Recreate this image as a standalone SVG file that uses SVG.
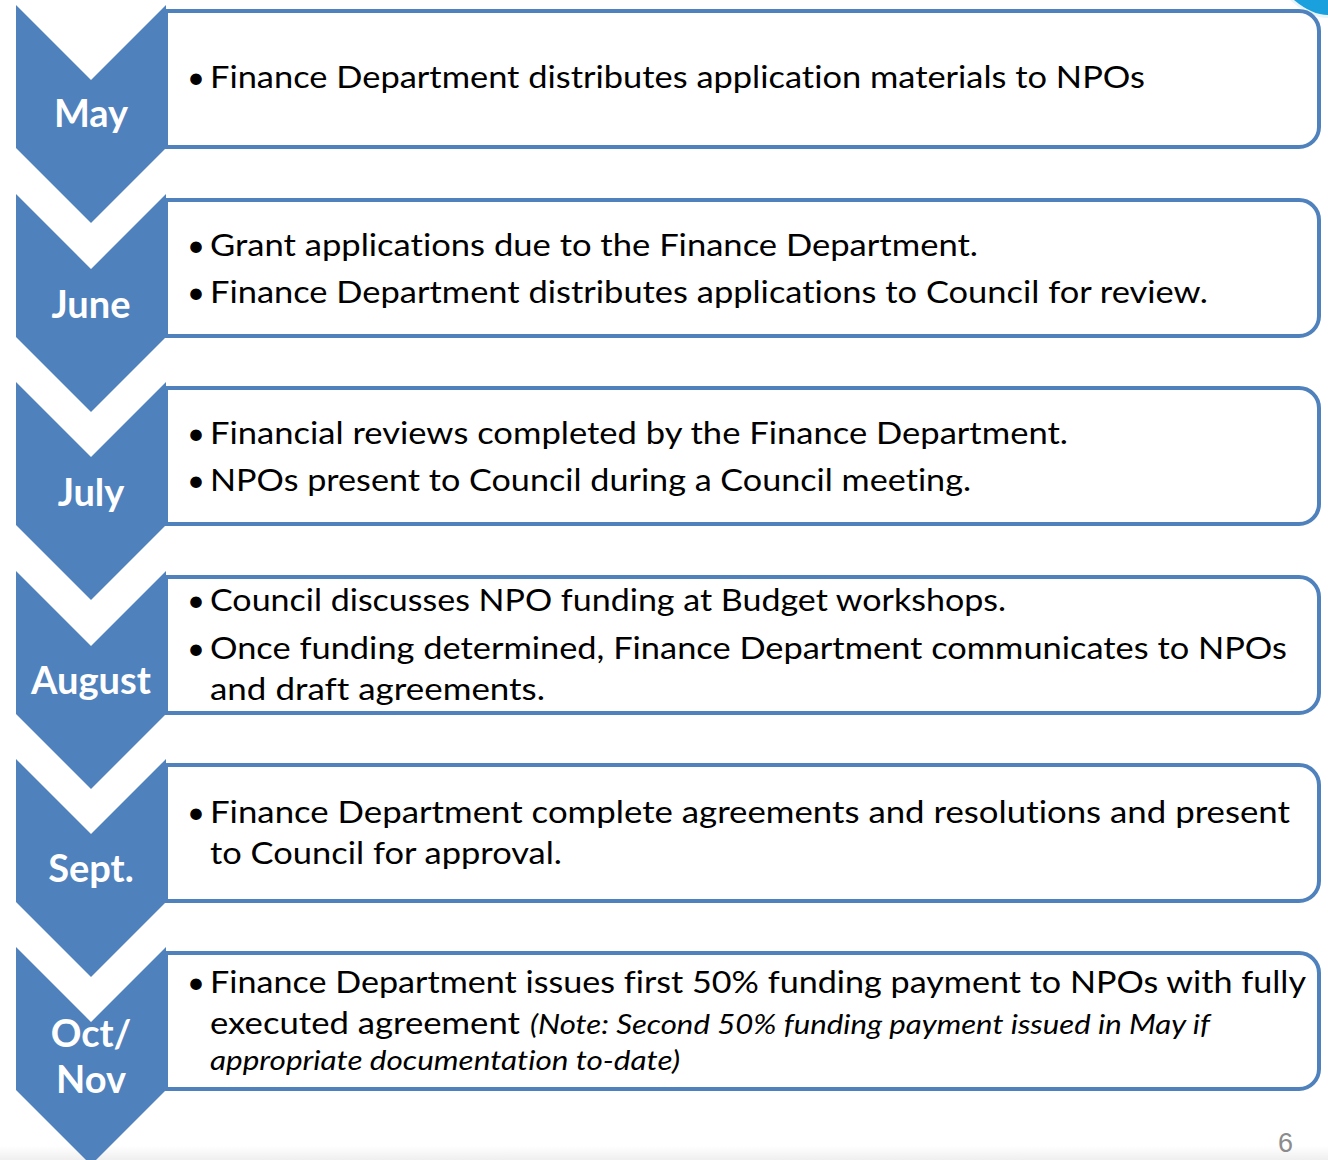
<svg xmlns="http://www.w3.org/2000/svg" width="1328" height="1160" viewBox="0 0 1328 1160">
  <defs>
    <style>
      .chev { fill: #4F81BD; }
      .box { fill: #FFFFFF; stroke: #4F81BD; stroke-width: 4; }
      text { font-variant-ligatures: none; }
      .month { font-family: Lato, "Open Sans", sans-serif; font-weight: bold; font-size: 38px; fill: #FFFFFF; text-anchor: middle; }
      .item { font-family: Lato, "Open Sans", sans-serif; font-size: 31px; fill: #000000; }
      .note { font-family: Lato, "Open Sans", sans-serif; font-size: 27px; font-style: italic; fill: #000000; }
      .page { font-family: "Liberation Sans", Arial, sans-serif; font-size: 27px; fill: #8C8C8C; }
    </style>
    <!-- chevron: 150 wide, 75 deep notch, shoulder at 143 -->
    <path id="chevron" d="M16,0 L91,75 L166,0 L166,143 L91,218 L16,143 Z"/>
    <!-- step box: square left side, rounded right side -->
    <path id="stepbox" d="M166,0 L1299,0 A20,20 0 0 1 1319,20 L1319,116 A20,20 0 0 1 1299,136 L166,136 Z"/>
    <linearGradient id="floor" x1="0" y1="0" x2="0" y2="1">
      <stop offset="0" stop-color="#FFFFFF"/>
      <stop offset="1" stop-color="#EFEFEF"/>
    </linearGradient>
  </defs>

  <rect x="0" y="0" width="1328" height="1160" fill="#FFFFFF"/>
  <rect x="0" y="1146" width="1328" height="14" fill="url(#floor)"/>

  <!-- corner accent -->
  <path d="M1290,0 Q1310,18 1328,18 L1328,0 Z" fill="#E6F4FB"/>
  <path d="M1294,0 Q1312,15 1328,15 L1328,0 Z" fill="#1AA0DC"/>

  <!-- May -->
  <g id="step-may">
    <use href="#stepbox" class="box" transform="translate(0,11)"/>
    <use href="#chevron" class="chev" transform="translate(0,5)"/>
    <text class="month" x="91" y="127">May</text>
    <text class="item" x="187" y="88">•</text>
    <text class="item" x="210" y="88" textLength="935" lengthAdjust="spacingAndGlyphs">Finance Department distributes application materials to NPOs</text>
  </g>

  <!-- June -->
  <g id="step-june">
    <use href="#stepbox" class="box" transform="translate(0,200)"/>
    <use href="#chevron" class="chev" transform="translate(0,194)"/>
    <text class="month" x="91" y="318">June</text>
    <text class="item" x="187" y="256">•</text>
    <text class="item" x="210" y="256" textLength="768" lengthAdjust="spacingAndGlyphs">Grant applications due to the Finance Department.</text>
    <text class="item" x="187" y="303">•</text>
    <text class="item" x="210" y="303" textLength="998" lengthAdjust="spacingAndGlyphs">Finance Department distributes applications to Council for review.</text>
  </g>

  <!-- July -->
  <g id="step-july">
    <use href="#stepbox" class="box" transform="translate(0,388)"/>
    <use href="#chevron" class="chev" transform="translate(0,382)"/>
    <text class="month" x="91" y="506">July</text>
    <text class="item" x="187" y="444">•</text>
    <text class="item" x="210" y="444" textLength="858" lengthAdjust="spacingAndGlyphs">Financial reviews completed by the Finance Department.</text>
    <text class="item" x="187" y="491">•</text>
    <text class="item" x="210" y="491" textLength="761" lengthAdjust="spacingAndGlyphs">NPOs present to Council during a Council meeting.</text>
  </g>

  <!-- August -->
  <g id="step-august">
    <use href="#stepbox" class="box" transform="translate(0,577)"/>
    <use href="#chevron" class="chev" transform="translate(0,571)"/>
    <text class="month" x="91" y="694" textLength="120" lengthAdjust="spacingAndGlyphs">August</text>
    <text class="item" x="187" y="611">•</text>
    <text class="item" x="210" y="611" textLength="796" lengthAdjust="spacingAndGlyphs">Council discusses NPO funding at Budget workshops.</text>
    <text class="item" x="187" y="659">•</text>
    <text class="item" x="210" y="659" textLength="1077" lengthAdjust="spacingAndGlyphs">Once funding determined, Finance Department communicates to NPOs</text>
    <text class="item" x="210" y="700" textLength="335" lengthAdjust="spacingAndGlyphs">and draft agreements.</text>
  </g>

  <!-- Sept. -->
  <g id="step-sept">
    <use href="#stepbox" class="box" transform="translate(0,765)"/>
    <use href="#chevron" class="chev" transform="translate(0,759)"/>
    <text class="month" x="91" y="882">Sept.</text>
    <text class="item" x="187" y="823">•</text>
    <text class="item" x="210" y="823" textLength="1080" lengthAdjust="spacingAndGlyphs">Finance Department complete agreements and resolutions and present</text>
    <text class="item" x="210" y="864" textLength="352" lengthAdjust="spacingAndGlyphs">to Council for approval.</text>
  </g>

  <!-- Oct/Nov -->
  <g id="step-octnov">
    <use href="#stepbox" class="box" transform="translate(0,953)"/>
    <use href="#chevron" class="chev" transform="translate(0,947)"/>
    <text class="month" x="91" y="1047">Oct/</text>
    <text class="month" x="91" y="1093">Nov</text>
    <text class="item" x="187" y="993">•</text>
    <text class="item" x="210" y="993" textLength="1096" lengthAdjust="spacingAndGlyphs">Finance Department issues first 50% funding payment to NPOs with fully</text>
    <text class="item" x="210" y="1034" textLength="310" lengthAdjust="spacingAndGlyphs">executed agreement</text>
    <text class="note" x="530" y="1034" textLength="680" lengthAdjust="spacingAndGlyphs">(Note: Second 50% funding payment issued in May if</text>
    <text class="note" x="210" y="1070" textLength="470" lengthAdjust="spacingAndGlyphs">appropriate documentation to-date)</text>
  </g>

  <text class="page" x="1278" y="1152">6</text>
</svg>
